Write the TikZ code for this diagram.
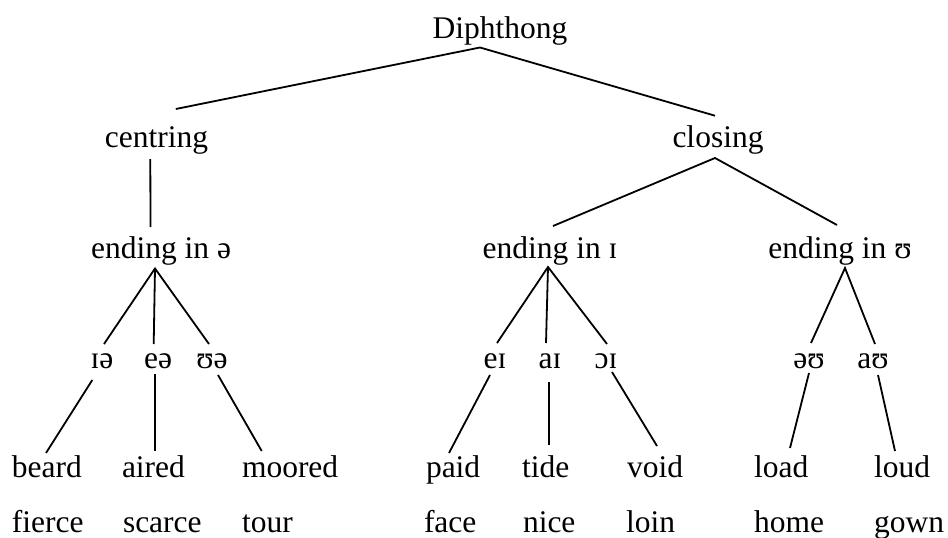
\documentclass[tikz,border=0pt]{standalone}
\usepackage{fontspec}
\setmainfont{Liberation Serif}
\begin{document}
\begin{tikzpicture}[x=1pt,y=-1pt,
  lbl/.style={inner sep=0pt, outer sep=0pt, anchor=base, font=\fontsize{31.5}{38}\selectfont},
  word/.style={lbl, anchor=base west},
  br/.style={line width=1.8pt, black}]
\useasboundingbox (0,0) rectangle (948,538);
% level 0 and 1
\node[lbl] (diph) at (500,38) {Diphthong};
\node[lbl] (centring) at (156.5,147) {centring};
\node[lbl] (closing) at (718,147) {closing};
% level 2
\node[lbl] (endA) at (161,258.5) {ending in ə};
\node[lbl] (endB) at (550,258.5) {ending in ɪ};
\node[lbl] (endC) at (840,258.5) {ending in ʊ};
% level 3
\node[lbl] (ia) at (102,368) {ɪə};
\node[lbl] (ea) at (158,368) {eə};
\node[lbl] (ua) at (212,368) {ʊə};
\node[lbl] (ei) at (495,368) {eɪ};
\node[lbl] (ai) at (550,368) {aɪ};
\node[lbl] (oi) at (606,368) {ɔɪ};
\node[lbl] (ou) at (809,368) {əʊ};
\node[lbl] (au) at (873,368) {aʊ};
% words
\node[word] (beard) at (12,477) {beard};
\node[word] (aired) at (122,477) {aired};
\node[word] (moored) at (242,477) {moored};
\node[word] (paid) at (426,477) {paid};
\node[word] (tide) at (522,477) {tide};
\node[word] (void) at (627,477) {void};
\node[word] (load) at (754,477) {load};
\node[word] (loud) at (874,477) {loud};
\node[word] (fierce) at (12,532) {fierce};
\node[word] (scarce) at (123,532) {scarce};
\node[word] (tour) at (242,532) {tour};
\node[word] (face) at (424,532) {face};
\node[word] (nice) at (523,532) {nice};
\node[word] (loin) at (626,532) {loin};
\node[word] (home) at (754,532) {home};
\node[word] (gown) at (874,532) {gown};
% branches
\draw[br] ([shift={(19.3,-38)}]centring.base) -- ([shift={(-20,9.5)}]diph.base) -- ([shift={(-3,-31.3)}]closing.base);
\draw[br] ([shift={(-6.2,12)}]centring.base) -- ([shift={(-10.5,-31.5)}]endA.base);
\draw[br] ([shift={(3,-32.5)}]endB.base) -- ([shift={(-3,11)}]closing.base) -- ([shift={(-3,-33.5)}]endC.base);
\draw[br] ([shift={(2,-24)}]ia.base) -- ([shift={(-6,10)}]endA.base) -- ([shift={(-3,-24)}]ua.base);
\draw[br] ([shift={(-6,10)}]endA.base) -- ([shift={(-4.3,-24)}]ea.base);
\draw[br] ([shift={(2,-25)}]ei.base) -- ([shift={(-2,8.5)}]endB.base) -- ([shift={(1,-24)}]oi.base);
\draw[br] ([shift={(-2,8.5)}]endB.base) -- ([shift={(-4,-25)}]ai.base);
\draw[br] ([shift={(2,-25)}]ou.base) -- ([shift={(5,9.5)}]endC.base) -- ([shift={(2,-24)}]au.base);
\draw[br] ([shift={(-9.7,12)}]ia.base) -- ([shift={(34,-24)}]beard.base west);
\draw[br] ([shift={(-3,6)}]ea.base) -- ([shift={(33,-26)}]aired.base west);
\draw[br] ([shift={(6,7)}]ua.base) -- ([shift={(19.7,-26)}]moored.base west);
\draw[br] ([shift={(-5,7)}]ei.base) -- ([shift={(23,-24)}]paid.base west);
\draw[br] ([shift={(-1,14)}]ai.base) -- ([shift={(27,-32)}]tide.base west);
\draw[br] ([shift={(6,4)}]oi.base) -- ([shift={(30,-31)}]void.base west);
\draw[br] ([shift={(0,5)}]ou.base) -- ([shift={(36,-29)}]load.base west);
\draw[br] ([shift={(5,7)}]au.base) -- ([shift={(21,-26)}]loud.base west);
\end{tikzpicture}
\end{document}
